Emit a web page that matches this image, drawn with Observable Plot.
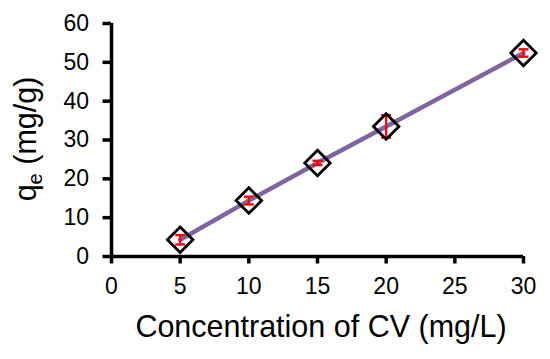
<!DOCTYPE html>
<html>
<head>
<meta charset="utf-8">
<script src="https://cdn.jsdelivr.net/npm/d3@7"></script>
<script src="https://cdn.jsdelivr.net/npm/@observablehq/plot@0.6"></script>
<style>
  html, body { margin: 0; padding: 0; background: #fff; }
  g[aria-label="x-axis tick"], g[aria-label="y-axis tick"] { stroke-width: 3.5px; stroke: #000; }
  g[aria-label="x-axis tick"] path, g[aria-label="y-axis tick"] path { stroke-width: 3.5px; stroke: #000; }
</style>
</head>
<body>
<div id="chart"></div>
<script>
const concentrations = [5, 10, 15, 20, 30];
const qe = [4.3, 14.4, 24.1, 33.5, 52.4];
const qeError = [1.2, 1.0, 0.55, 2.9, 0.95];
const xTicks = [0, 5, 10, 15, 20, 25, 30];
const yTicks = [0, 10, 20, 30, 40, 50, 60];

const data = concentrations.map((c, i) => ({x: c, y: qe[i], e: qeError[i]}));
const caps = data.flatMap(d => [{x: d.x, y: d.y + d.e}, {x: d.x, y: d.y - d.e}]);

const hline = {
  draw(ctx, size) {
    const r = Math.sqrt(size) * 0.5;
    ctx.moveTo(-r, 0);
    ctx.lineTo(r, 0);
  }
};

const FONT = "'Liberation Sans', Arial, sans-serif";

const chart = Plot.plot({
  width: 550,
  height: 359,
  marginLeft: 111,
  marginRight: 27,
  marginTop: 23,
  marginBottom: 103,
  style: {fontFamily: FONT, fontSize: "23px", color: "#000", background: "#fff"},
  x: {domain: [0, 30], ticks: xTicks, label: null},
  y: {domain: [0, 60], ticks: yTicks, label: null},
  marks: [
    Plot.axisX({ticks: xTicks, tickSize: 7.5, tickPadding: 14, stroke: "#000", strokeWidth: 3.5, fontSize: 23, label: null}),
    Plot.axisY({ticks: yTicks, tickSize: 8.5, tickPadding: 14, stroke: "#000", strokeWidth: 3.5, fontSize: 23, label: null}),
    Plot.ruleY([0], {stroke: "#000", strokeWidth: 3.5}),
    Plot.ruleX([0], {stroke: "#000", strokeWidth: 3.5}),
    Plot.line(data, {x: "x", y: "y", stroke: "#8064A2", strokeWidth: 4.5}),
    Plot.ruleX(data, {x: "x", y1: d => d.y - d.e, y2: d => d.y + d.e, stroke: "#FF0000", strokeWidth: 2.2}),
    Plot.dot(caps, {x: "x", y: "y", symbol: hline, r: 5.6, stroke: "#FF0000", strokeWidth: 2.4, fill: "none"}),
    Plot.dot(data, {x: "x", y: "y", symbol: "diamond2", r: 11.5, stroke: "#000", strokeWidth: 2.8, fill: "none"})
  ]
});

document.getElementById("chart").appendChild(chart);

const svg = d3.select(chart);
svg.selectAll('g[aria-label$="axis tick"]').attr("stroke-width", 3.5).attr("stroke", "#000");
svg.selectAll('g[aria-label$="axis tick"] path').attr("stroke-width", 3.5);

svg.append("text")
  .attr("x", 321)
  .attr("y", 337)
  .attr("text-anchor", "middle")
  .attr("font-size", 30.5)
  .attr("font-family", FONT)
  .attr("fill", "#000")
  .text("Concentration of CV (mg/L)");

const yl = svg.append("text")
  .attr("transform", "translate(36,139) rotate(-90)")
  .attr("text-anchor", "middle")
  .attr("font-size", 30.5)
  .attr("font-family", FONT)
  .attr("fill", "#000");
yl.append("tspan").text("q");
yl.append("tspan").attr("font-size", 20).attr("dy", 6).text("e");
yl.append("tspan").attr("dy", -6).text(" (mg/g)");
</script>
</body>
</html>
